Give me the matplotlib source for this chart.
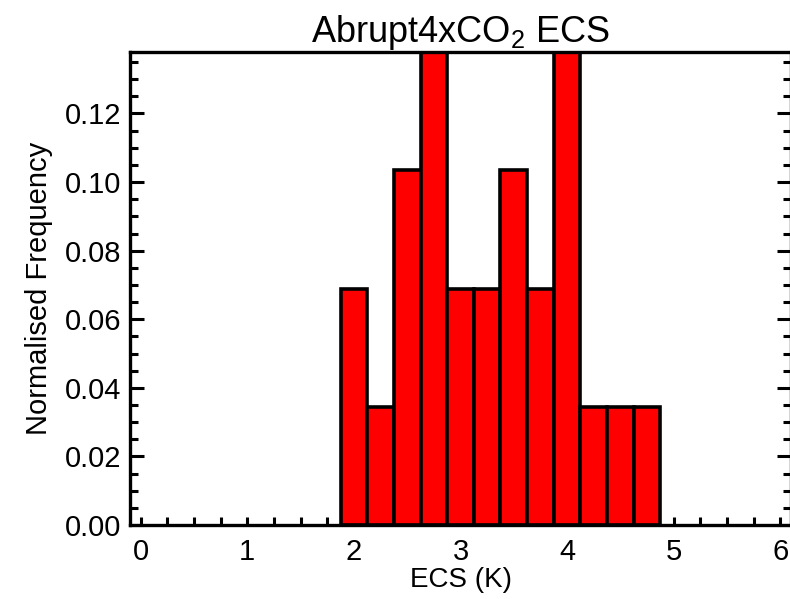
import matplotlib
matplotlib.use("Agg")
import matplotlib.pyplot as plt
from matplotlib.ticker import MultipleLocator, FormatStrFormatter

plt.rcParams['font.family'] = ['Liberation Sans', 'DejaVu Sans']
plt.rcParams['mathtext.default'] = 'regular'

# Data: histogram of ECS across models (bin width 0.25 K)
bin_centers = [2.0, 2.25, 2.5, 2.75, 3.0, 3.25, 3.5, 3.75, 4.0, 4.25, 4.5, 4.75]
frequency = [2/29, 1/29, 3/29, 4/29, 2/29, 2/29, 3/29, 2/29, 4/29, 1/29, 1/29, 1/29]
bin_width = 0.25
x_ticks = [0, 1, 2, 3, 4, 5, 6]
y_ticks = [0.00, 0.02, 0.04, 0.06, 0.08, 0.10, 0.12]

fig = plt.figure(figsize=(7.9, 5.99), dpi=100)
ax = fig.add_axes([130/790, 74/599, 661/790, 473/599])

ax.bar(bin_centers, frequency, width=bin_width, color='#ff0000',
       edgecolor='black', linewidth=2.6, align='center', zorder=2, clip_on=True)

ax.set_xlim(-0.1, 6.1)
ax.set_ylim(0, max(frequency))

ax.set_xticks(x_ticks)
ax.set_yticks(y_ticks)
ax.xaxis.set_minor_locator(MultipleLocator(0.25))
ax.yaxis.set_minor_locator(MultipleLocator(0.005))
ax.yaxis.set_major_formatter(FormatStrFormatter('%.2f'))

ax.tick_params(axis='x', which='both', direction='in', length=6, width=2.2,
               top=False, bottom=True, labelsize=21, pad=9)
ax.tick_params(axis='y', which='major', direction='in', length=10, width=2.2,
               left=True, right=True, labelsize=21, pad=6)
ax.tick_params(axis='y', which='minor', direction='in', length=5.5, width=2.2,
               left=True, right=True)

for s in ax.spines.values():
    s.set_linewidth(2.4)

ax.set_title('Abrupt4xCO$_2$ ECS', fontsize=26, pad=6)
ax.set_xlabel('ECS (K)', fontsize=20, labelpad=1)
ax.set_ylabel('Normalised Frequency', fontsize=21, labelpad=9)

fig.savefig('out.png', dpi=100)
